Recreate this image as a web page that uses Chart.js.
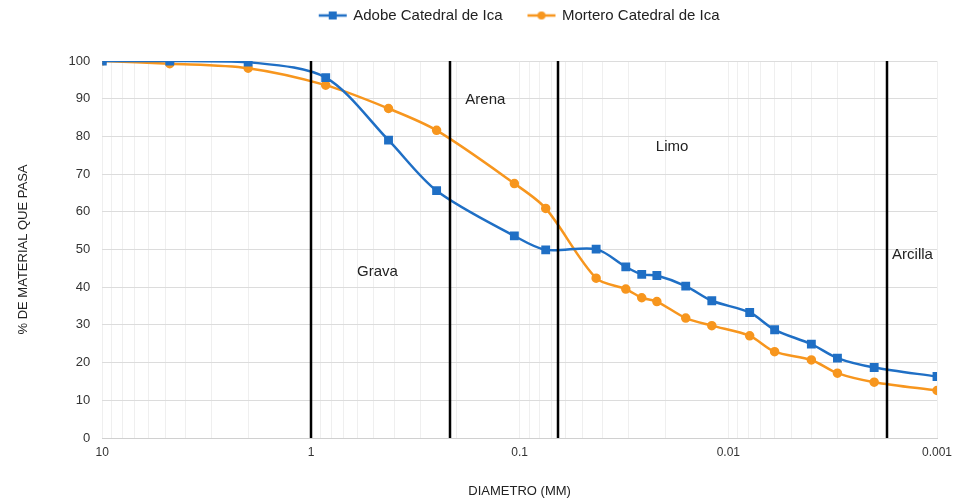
<!DOCTYPE html>
<html>
<head>
<meta charset="utf-8">
<script src="https://cdn.jsdelivr.net/npm/chart.js@4"></script>
<style>
  html, body { margin: 0; padding: 0; background: #fff; }
  #wrap { width: 969px; height: 503px; }
</style>
</head>
<body>
<div id="wrap"><canvas id="chart1"></canvas></div>
<script>
// diametro (mm) de cada tamiz / lectura
const diametros = [10, 4.75, 2, 0.85, 0.425, 0.25, 0.106, 0.075, 0.043, 0.031, 0.026, 0.022, 0.016, 0.012, 0.0079, 0.006, 0.004, 0.003, 0.002, 0.001];
const adobe = [100, 100, 99.7, 95.6, 79.0, 65.6, 53.6, 49.9, 50.1, 45.4, 43.4, 43.1, 40.3, 36.4, 33.3, 28.7, 24.9, 21.2, 18.7, 16.3];
const mortero = [100, 99.3, 98.1, 93.6, 87.4, 81.6, 67.5, 60.9, 42.4, 39.5, 37.2, 36.2, 31.8, 29.8, 27.1, 22.9, 20.7, 17.2, 14.8, 12.6];
const yTicks = [0, 10, 20, 30, 40, 50, 60, 70, 80, 90, 100];
const xLabels = [10, 1, 0.1, 0.01, 0.001];

// limites entre fracciones y etiquetas
const limites = [1, 0.215, 0.0655, 0.00174];
const zonas = ['Grava', 'Arena', 'Limo', 'Arcilla'];
const zonaX = [0.48, 0.146, 0.0186, 0.00131];
const zonaY = [44, 89.6, 77.2, 48.5];

const blue = '#1f6fc5';
const orange = '#f7961e';

function toPoints(ys) {
    return diametros.map((d, i) => ({x: d, y: ys[i]}));
}

function legendIcon(color, square) {
    const c = document.createElement('canvas');
    c.width = 30; c.height = 12;
    const g = c.getContext('2d');
    g.strokeStyle = color;
    g.lineWidth = 2.5;
    g.beginPath(); g.moveTo(1, 6); g.lineTo(29, 6); g.stroke();
    g.fillStyle = color;
    if (square) {
        g.fillRect(11, 2, 8, 8);
    } else {
        g.beginPath(); g.arc(15, 6, 4, 0, Math.PI * 2); g.fill();
    }
    return c;
}
const icons = [legendIcon(blue, true), legendIcon(orange, false)];

// log ticks 1..9 por decada para la rejilla
const allTicks = [];
for (let e = -3; e <= 1; e++) {
    for (let m = 1; m <= 9; m++) {
        const v = parseFloat((m * Math.pow(10, e)).toPrecision(3));
        if (v >= 0.001 && v <= 10) allTicks.push(v);
    }
}

// espacio extra bajo la leyenda
const legendGap = {
    id: 'legendGap',
    beforeInit(chart) {
        const fit = chart.legend.fit;
        chart.legend.fit = function () {
            fit.call(this);
            this.height += 28;
        };
    }
};

const zonasPlugin = {
    id: 'zonas',
    afterDatasetsDraw(chart) {
        const {ctx, chartArea, scales} = chart;
        ctx.save();
        ctx.strokeStyle = '#000';
        ctx.lineWidth = 2.5;
        limites.forEach(v => {
            const x = Math.round(scales.x.getPixelForValue(v));
            ctx.beginPath();
            ctx.moveTo(x, chartArea.top);
            ctx.lineTo(x, chartArea.bottom);
            ctx.stroke();
        });
        ctx.fillStyle = '#222';
        ctx.font = '15px "Liberation Sans", Arial, sans-serif';
        ctx.textAlign = 'center';
        ctx.textBaseline = 'middle';
        zonas.forEach((t, i) => {
            ctx.fillText(t, scales.x.getPixelForValue(zonaX[i]), scales.y.getPixelForValue(zonaY[i]));
        });
        ctx.restore();
    }
};

const ctx1 = document.getElementById('chart1').getContext('2d');
const chart1 = new Chart(ctx1, {
    type: 'line',
    data: {
        datasets: [
            {
                label: 'Adobe Catedral de Ica',
                data: toPoints(adobe),
                borderColor: blue,
                backgroundColor: blue,
                borderWidth: 2.5,
                pointStyle: 'rect',
                pointRadius: 4.5,
                tension: 0.3
            },
            {
                label: 'Mortero Catedral de Ica',
                data: toPoints(mortero),
                borderColor: orange,
                backgroundColor: orange,
                borderWidth: 2.5,
                pointStyle: 'circle',
                pointRadius: 3.5,
                tension: 0.3
            }
        ]
    },
    options: {
        responsive: true,
        maintainAspectRatio: false,
        animation: false,
        layout: { padding: { left: 16, right: 32, top: -18, bottom: 4 } },
        plugins: {
            tooltip: { enabled: false },
            legend: {
                position: 'top',
                fullSize: false,
                labels: {
                    usePointStyle: true,
                    pointStyleWidth: 26,
                    padding: 26,
                    color: '#222',
                    font: { family: '"Liberation Sans", Arial, sans-serif', size: 15 },
                    generateLabels(chart) {
                        return chart.data.datasets.map((ds, i) => ({
                            text: ds.label,
                            datasetIndex: i,
                            pointStyle: icons[i],
                            fillStyle: ds.borderColor,
                            strokeStyle: ds.borderColor,
                            lineWidth: 0,
                            fontColor: '#222'
                        }));
                    }
                }
            }
        },
        scales: {
            x: {
                type: 'logarithmic',
                reverse: true,
                min: 0.001,
                max: 10,
                afterBuildTicks(scale) {
                    scale.ticks = allTicks.map(v => ({value: v}));
                },
                ticks: {
                    autoSkip: false,
                    maxRotation: 0,
                    padding: 7,
                    color: '#333',
                    font: { family: '"Liberation Sans", Arial, sans-serif', size: 12 },
                    callback(value) {
                        const hit = xLabels.find(l => Math.abs(l - value) / l < 1e-6);
                        return hit !== undefined ? String(hit) : '';
                    }
                },
                grid: {
                    color: '#efefef',
                    lineWidth: 1,
                    drawTicks: false
                },
                border: { color: '#d0d0d0' },
                title: {
                    display: true,
                    text: 'DIAMETRO (MM)',
                    color: '#222',
                    padding: { top: 17, bottom: 0 },
                    font: { family: '"Liberation Sans", Arial, sans-serif', size: 13 }
                }
            },
            y: {
                min: 0,
                max: 100,
                afterBuildTicks(scale) {
                    scale.ticks = yTicks.map(v => ({value: v}));
                },
                ticks: {
                    padding: 12,
                    color: '#333',
                    font: { family: '"Liberation Sans", Arial, sans-serif', size: 13 }
                },
                grid: {
                    color: '#dcdcdc',
                    drawTicks: false
                },
                border: { display: false },
                title: {
                    display: true,
                    text: '% DE MATERIAL QUE PASA',
                    color: '#222',
                    padding: { top: 0, bottom: 25 },
                    font: { family: '"Liberation Sans", Arial, sans-serif', size: 13 }
                }
            }
        }
    },
    plugins: [legendGap, zonasPlugin]
});
</script>
</body>
</html>
